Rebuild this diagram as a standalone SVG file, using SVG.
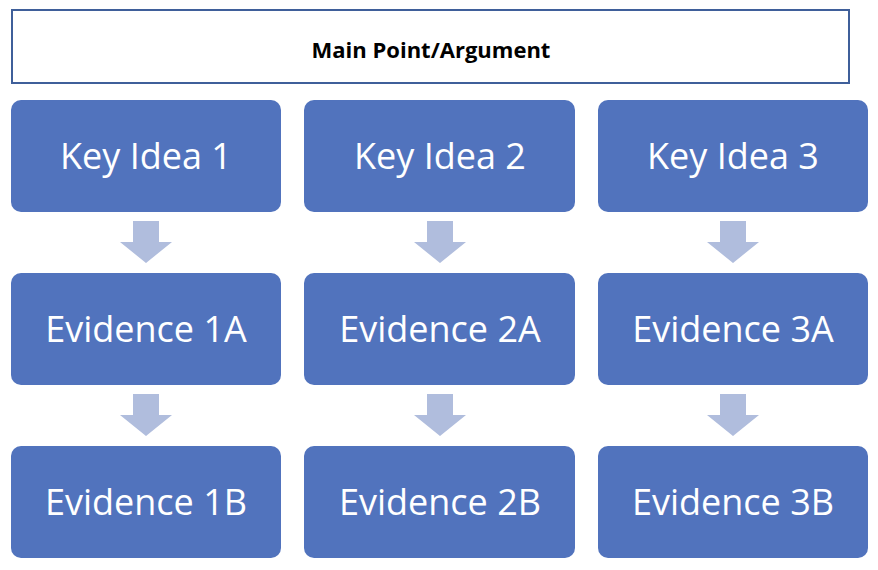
<svg xmlns="http://www.w3.org/2000/svg" width="878" height="570" viewBox="0 0 878 570">
<style>
.b{fill:#5173bd}
.t{fill:#fff;font-family:"Open Sans","Noto Sans",sans-serif;font-size:36px;text-anchor:middle}
.a{fill:#b0bddd}
</style>
<rect width="878" height="570" fill="#fff"/>
<g id="main"><rect x="12" y="10" width="837" height="73" fill="#fff" stroke="#3f5f9a" stroke-width="2"/>
<text x="431" y="58" style="font-family:'Open Sans','Noto Sans',sans-serif;font-size:22px;font-weight:bold;text-anchor:middle">Main Point/Argument</text></g>
<g id="k1"><rect class="b" x="11" y="100" width="270" height="112" rx="10"/><text class="t" x="146" y="169">Key Idea 1</text></g>
<g id="k2"><rect class="b" x="304" y="100" width="271" height="112" rx="10"/><text class="t" x="440" y="169">Key Idea 2</text></g>
<g id="k3"><rect class="b" x="598" y="100" width="270" height="112" rx="10"/><text class="t" x="733" y="169">Key Idea 3</text></g>
<g id="e1a"><rect class="b" x="11" y="273" width="270" height="112" rx="10"/><text class="t" x="146" y="342">Evidence 1A</text></g>
<g id="e2a"><rect class="b" x="304" y="273" width="271" height="112" rx="10"/><text class="t" x="440" y="342">Evidence 2A</text></g>
<g id="e3a"><rect class="b" x="598" y="273" width="270" height="112" rx="10"/><text class="t" x="733" y="342">Evidence 3A</text></g>
<g id="e1b"><rect class="b" x="11" y="446" width="270" height="112" rx="10"/><text class="t" x="146" y="515">Evidence 1B</text></g>
<g id="e2b"><rect class="b" x="304" y="446" width="271" height="112" rx="10"/><text class="t" x="440" y="515">Evidence 2B</text></g>
<g id="e3b"><rect class="b" x="598" y="446" width="270" height="112" rx="10"/><text class="t" x="733" y="515">Evidence 3B</text></g>
<g id="connectors">
<defs><path id="ar" class="a" d="M-13,0 H13 V21 H26 L0,42 L-26,21 H-13 Z"/></defs>
<use href="#ar" x="146" y="221"/><use href="#ar" x="440" y="221"/><use href="#ar" x="733" y="221"/>
<use href="#ar" x="146" y="394"/><use href="#ar" x="440" y="394"/><use href="#ar" x="733" y="394"/>
</g>
</svg>
